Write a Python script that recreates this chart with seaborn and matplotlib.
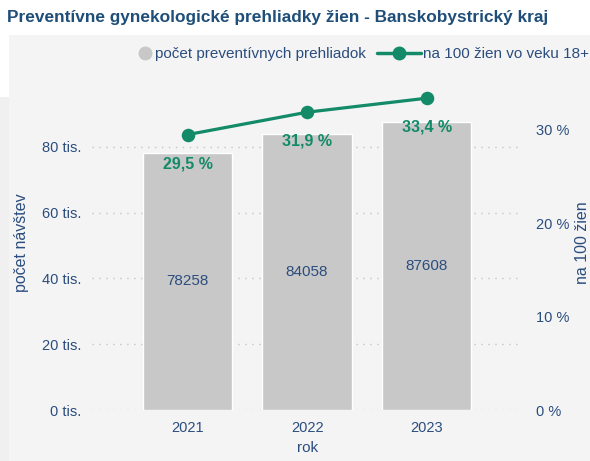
import matplotlib
matplotlib.use("Agg")
import matplotlib.pyplot as plt
import seaborn as sns
import pandas as pd
from matplotlib.lines import Line2D
from matplotlib.patches import Rectangle

# data
roky = ["2021", "2022", "2023"]
pocet = [78258, 84058, 87608]
na_100 = [29.5, 31.9, 33.4]

df = pd.DataFrame({"rok": roky, "pocet": pocet, "na_100": na_100})

sns.set_style("white")
plt.rcParams["font.family"] = ["Liberation Sans", "DejaVu Sans"]

blue = "#2b4d7e"
green = "#138a68"
gray_bar = "#c8c8c8"

fig = plt.figure(figsize=(5.9, 4.61), dpi=100, facecolor="white")
# light panel behind the chart
fig.patches.append(Rectangle((9 / 590, 0), 1, 0.924, transform=fig.transFigure,
                             facecolor="#f4f4f4", edgecolor="none", zorder=-10))
fig.patches.append(Rectangle((0, 0), 9 / 590, 0.79, transform=fig.transFigure,
                             facecolor="#f0f0f0", edgecolor="none", zorder=-10))

ax = fig.add_axes([0.156, 0.1106, 0.729, 0.727])
ax.set_facecolor("none")
sns.barplot(data=df, x="rok", y="pocet", color=gray_bar, width=0.75,
            saturation=1, ax=ax, zorder=2)
ax.set_ylim(0, 101900)
ax.set_xlim(-0.8, 2.8)
ax.set_yticks([0, 20000, 40000, 60000, 80000])
ax.set_yticklabels(["0 tis.", "20 tis.", "40 tis.", "60 tis.", "80 tis."])
ax.yaxis.grid(True, linestyle=(0, (1, 4)), color="#c4c4c4", linewidth=1, zorder=0)
ax.set_axisbelow(True)
ax.tick_params(axis="both", length=0, labelsize=10.5, labelcolor=blue, pad=8)
ax.tick_params(axis="y", pad=8)
ax.set_xlabel("rok", color=blue, fontsize=11, labelpad=4)
ax.set_ylabel("počet návštev", color=blue, fontsize=11.5, labelpad=9)
for s in ax.spines.values():
    s.set_visible(False)

for i, v in enumerate(pocet):
    ax.text(i, v / 2, str(v), ha="center", va="center", color=blue, fontsize=11)

ax2 = ax.twinx()
sns.pointplot(data=df, x="rok", y="na_100", color=green, markers="o",
              markersize=8, linewidth=2.3, ax=ax2)
ax2.set_ylim(0, 35.9)
ax2.set_xlim(-0.8, 2.8)
ax2.set_yticks([0, 10, 20, 30])
ax2.set_yticklabels(["0 %", "10 %", "20 %", "30 %"])
ax2.tick_params(axis="y", length=0, labelsize=10.5, labelcolor=blue, pad=10)
ax2.set_ylabel("na 100 žien", color=blue, fontsize=11.5, labelpad=4)
ax2.set_xlabel("")
for s in ax2.spines.values():
    s.set_visible(False)

for i, v in enumerate(na_100):
    ax2.annotate(f"{v:.1f} %".replace(".", ","), (i, v), xytext=(0, -21),
                 textcoords="offset points", ha="center", va="center",
                 color=green, fontsize=11.5, fontweight="bold")

# legend: two parts, as in the original layout
h_bar = Line2D([], [], marker="o", linestyle="none", color=gray_bar, markersize=9)
h_line = Line2D([], [], marker="o", color=green, markersize=9, linewidth=2.5)
fig.legend([h_bar], ["počet preventívnych prehliadok"], loc="center left",
           bbox_to_anchor=(140 / 590, 0.883), frameon=False, fontsize=11,
           labelcolor=blue, handlelength=0.7, handletextpad=0.25,
           borderpad=0, borderaxespad=0)
fig.legend([h_line], ["na 100 žien vo veku 18+"], loc="center left",
           bbox_to_anchor=(377 / 590, 0.883), frameon=False, fontsize=11,
           labelcolor=blue, handlelength=2.9, handletextpad=0.1,
           borderpad=0, borderaxespad=0)

fig.text(0.012, 0.963, "Preventívne gynekologické prehliadky žien - Banskobystrický kraj",
         color="#1f4e79", fontsize=12.4, fontweight="bold", va="center")

fig.savefig("out.png", dpi=100, facecolor=fig.get_facecolor())
